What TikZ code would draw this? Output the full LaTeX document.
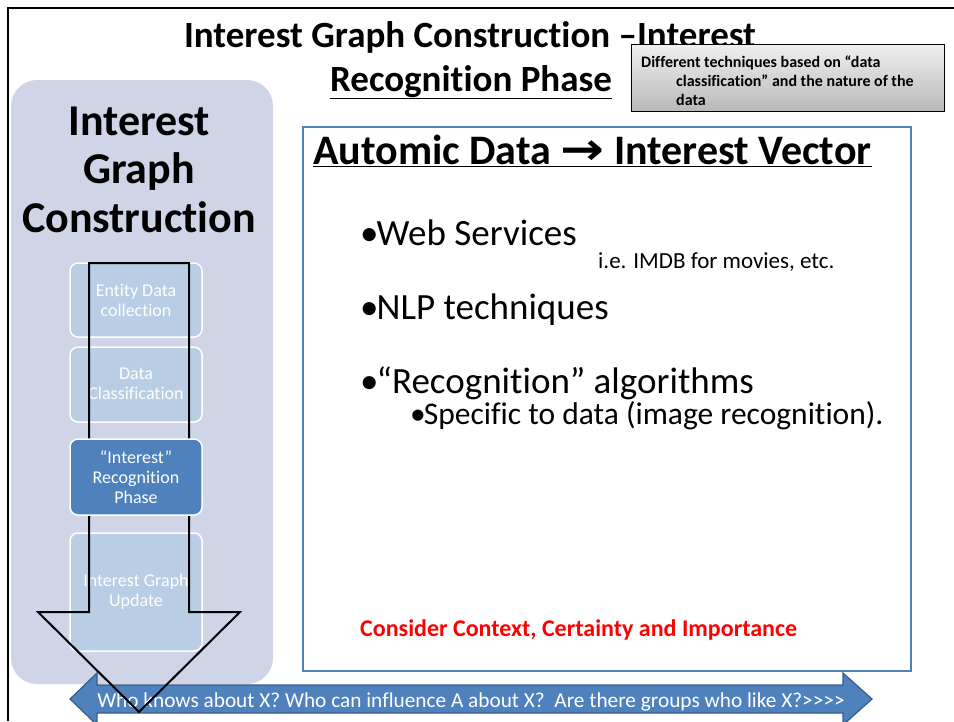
\documentclass[tikz,border=0pt]{standalone}
\usepackage{fontspec}
\setmainfont{Carlito}[Ligatures={NoCommon}]
\newfontfamily\symfont{DejaVu Sans}
\usetikzlibrary{shadings}
\definecolor{panelfill}{RGB}{207,213,230}
\definecolor{lightbox}{RGB}{185,205,229}
\definecolor{darkbox}{RGB}{79,129,189}
\definecolor{arrowedge}{RGB}{56,93,138}
\definecolor{mainedge}{RGB}{79,129,189}
\definecolor{redtext}{RGB}{255,0,0}
\newcommand\mybul{•\kern-2pt}
\tikzset{
  stepbox/.style={draw=white, line width=1.5pt, rounded corners=8pt, fill=lightbox},
  stepdark/.style={draw=white, line width=1.5pt, rounded corners=8pt, fill=darkbox},
  steptext/.style={text=white, font=\fontsize{18}{20}\selectfont, align=center},
  bullet/.style={anchor=base west, inner sep=0pt},
  ptitle/.style={font=\bfseries\fontsize{44}{48}\selectfont, anchor=base, inner sep=0pt},
  ttitle/.style={font=\bfseries\fontsize{37}{40}\selectfont, anchor=base, inner sep=0pt},
  notetext/.style={font=\bfseries\fontsize{16}{19}\selectfont, anchor=base west, inner sep=0pt},
}
\begin{document}
\begin{tikzpicture}[x=1pt,y=-1pt]
\useasboundingbox (0,0) rectangle (954,721);
\fill[white] (0,0) rectangle (954,721);
% slide border
\draw[line width=2pt] (8,721) -- (8,8) -- (954,8);
% left panel
\fill[panelfill, rounded corners=26pt] (11,80) rectangle (273,684);
\node[ptitle] (pt1) at (139,135) {Interest};
\node[ptitle] (pt2) at (139,183) {Graph};
\node[ptitle] (pt3) at (139,232) {Construction};
% title
\node[ttitle] (title1) at (470,47) {Interest Graph Construction –\underline{Interest}};
\node[ttitle] (title2) at (471,91) {\underline{Recognition Phase}};
% gray note
\shade[top color=gray!12, bottom color=gray!55, draw=black, line width=0.8pt] (631,44) rectangle (944,111);
\node[notetext] (note1) at (641,67) {Different techniques based on “data};
\node[notetext] (note2) at (676,86) {classification” and the nature of the};
\node[notetext] (note3) at (676,105) {data};
% main box
\draw[mainedge, line width=1.5pt, fill=white] (303,127) rectangle (911,671);
\node[font=\bfseries\fontsize{42}{46}\selectfont, bullet] (head) at (313,164) {\underline{Automic Data {\symfont\bfseries\scalebox{1.25}[1.05]{→}} Interest Vector}};
\node[font=\fontsize{37}{40}\selectfont, bullet] (b1) at (360,245) {\mybul Web Services};
\node[font=\fontsize{23}{26}\selectfont, bullet] (b1s) at (598,268) {i.e. IMDB for movies, etc.};
\node[font=\fontsize{37}{40}\selectfont, bullet] (b2) at (360,319) {\mybul NLP techniques};
\node[font=\fontsize{37}{40}\selectfont, bullet] (b3) at (360,393) {\mybul “Recognition” algorithms};
\node[font=\fontsize{31.5}{34}\selectfont, bullet] (b3s) at (410,424) {\mybul Specific to data (image recognition).};
\node[font=\bfseries\fontsize{24}{28}\selectfont, bullet, text=redtext] (red) at (360,636) {Consider Context, Certainty and Importance};
% bottom double arrow
\draw[fill=darkbox, draw=arrowedge, line width=1.2pt] (70,699) -- (97,673) -- (97,685) -- (843,685) -- (843,673) -- (872,699) -- (843,725) -- (843,713) -- (97,713) -- (97,725) -- cycle;
\node[text=white, font=\fontsize{21.3}{24}\selectfont, anchor=base, inner sep=0pt] (who) at (471,707) {Who knows about X? Who can influence A about X?\ \ Are there groups who like X?>\kern0pt>\kern0pt>\kern0pt>};
% step boxes
\draw[stepbox] (70,263) rectangle (202,337);
\node[steptext] (s1) at (136,300) {Entity Data\\collection};
\draw[stepbox] (70,347) rectangle (202,422);
\node[steptext] (s2) at (136,384) {Data\\Classification};
\draw[stepbox] (70,533) rectangle (202,651);
\node[steptext] (s4) at (136,592) {Interest Graph\\Update};
% hollow arrow
\draw[line width=2pt, line join=miter] (89,263) -- (189,263) -- (189,612) -- (240,612) -- (139,712) -- (38,612) -- (89,612) -- cycle;
% current step
\draw[stepdark] (70,439) rectangle (202,515);
\node[steptext] (s3) at (136,477) {“Interest”\\Recognition\\Phase};
\end{tikzpicture}
\end{document}
